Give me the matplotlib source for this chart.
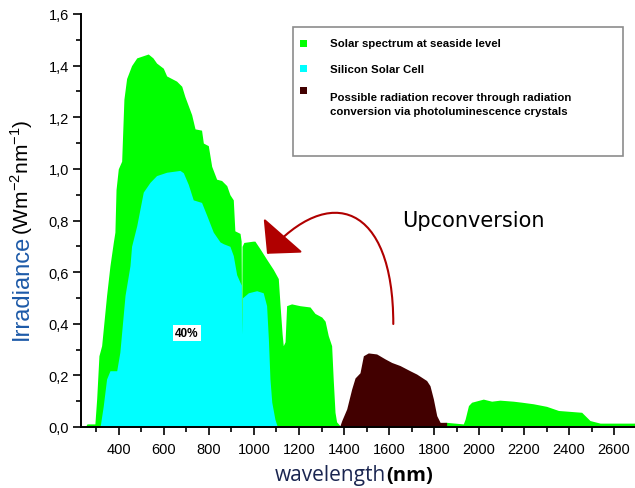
import matplotlib.pyplot as plt
from matplotlib.patches import FancyArrowPatch, Rectangle
from matplotlib.path import Path
from matplotlib.ticker import MultipleLocator, FuncFormatter

# solar spectrum at sea level (green)
solar_wl = [250, 258, 293, 301, 311, 323, 345, 360, 375, 382, 387, 397, 412, 422, 434,
            456, 479, 530, 551, 567, 597, 612, 656, 679, 693, 723, 738, 767, 775, 797,
            812, 834, 856, 879, 893, 908, 915, 938, 943, 945, 947, 955, 996, 1004, 1027,
            1056, 1086, 1108, 1116, 1125, 1130, 1138, 1145, 1167, 1204, 1249, 1271, 1301,
            1316, 1330, 1345, 1352, 1360, 1367, 1382, 1856, 1930, 1938, 1953, 1967, 2019,
            2056, 2093, 2152, 2190, 2241, 2300, 2353, 2456, 2493, 2538, 2700]
solar_irr = [0.0, 0.012, 0.012, 0.11, 0.276, 0.315, 0.51, 0.625, 0.716, 0.755, 0.92, 1.0,
             1.03, 1.27, 1.35, 1.40, 1.43, 1.445, 1.43, 1.41, 1.39, 1.36, 1.34, 1.32, 1.28,
             1.21, 1.155, 1.15, 1.10, 1.09, 1.01, 0.96, 0.955, 0.935, 0.90, 0.88, 0.76,
             0.75, 0.72, 0.36, 0.70, 0.715, 0.72, 0.72, 0.69, 0.65, 0.61, 0.575, 0.47, 0.36,
             0.315, 0.33, 0.47, 0.477, 0.47, 0.465, 0.44, 0.426, 0.41, 0.354, 0.315, 0.186,
             0.057, 0.02, 0.005, 0.018, 0.012, 0.03, 0.083, 0.096, 0.108, 0.10, 0.104, 0.10,
             0.096, 0.09, 0.08, 0.064, 0.057, 0.025, 0.015, 0.015]

# silicon solar cell (cyan)
si_wl = [316, 330, 345, 360, 390, 404, 427, 449, 456, 479, 508, 538, 567, 612, 671, 686,
         708, 730, 767, 790, 819, 849, 864, 893, 908, 923, 938, 944, 945, 948, 975, 1012,
         1041, 1056, 1064, 1071, 1079, 1093, 1104]
si_irr = [0.0, 0.08, 0.186, 0.218, 0.218, 0.29, 0.51, 0.625, 0.70, 0.78, 0.91, 0.948,
          0.974, 0.987, 0.994, 0.985, 0.94, 0.88, 0.87, 0.82, 0.755, 0.717, 0.71, 0.70,
          0.664, 0.59, 0.56, 0.55, 0.36, 0.50, 0.52, 0.528, 0.52, 0.47, 0.34, 0.186, 0.096,
          0.03, 0.0]

# recoverable radiation (dark brown)
rec_wl = [1382, 1390, 1412, 1434, 1449, 1471, 1486, 1508, 1545, 1582, 1612, 1649, 1693,
          1723, 1767, 1782, 1797, 1812, 1827, 1856]
rec_irr = [0.005, 0.025, 0.07, 0.147, 0.19, 0.21, 0.276, 0.287, 0.283, 0.264, 0.25, 0.238,
           0.218, 0.205, 0.18, 0.16, 0.109, 0.044, 0.018, 0.018]

legend_labels = ['Solar spectrum at seaside level', 'Silicon Solar Cell',
                 'Possible radiation recover through radiation\nconversion via photoluminescence crystals']
colors = ['#00ff00', '#00ffff', '#420000']

fig = plt.figure(figsize=(6.35, 4.89), dpi=100)
ax = fig.add_axes([80.7 / 635, 61 / 489, (635 - 80.7) / 635, 413 / 489])

ax.fill_between(solar_wl, solar_irr, color=colors[0], lw=0)
ax.fill_between(si_wl, si_irr, color=colors[1], lw=0)
ax.fill_between(rec_wl, rec_irr, color=colors[2], lw=0)

ax.set_xlim(230, 2693)
ax.set_ylim(0, 1.6)
for s in ['top', 'right']:
    ax.spines[s].set_visible(False)
for s in ['left', 'bottom']:
    ax.spines[s].set_linewidth(1.4)
ax.xaxis.set_major_locator(MultipleLocator(200))
ax.xaxis.set_minor_locator(MultipleLocator(100))
ax.yaxis.set_major_locator(MultipleLocator(0.2))
ax.yaxis.set_minor_locator(MultipleLocator(0.1))
ax.set_xticks([t for t in range(400, 2700, 200)])
ax.yaxis.set_major_formatter(FuncFormatter(lambda v, p: f'{v:.1f}'.replace('.', ',')))
ax.tick_params(which='major', length=5.5, width=1.2, labelsize=10.5, pad=3)
ax.tick_params(axis='x', which='major', pad=5.5)
ax.tick_params(which='minor', length=3.5, width=1.2)
for lab in ax.get_xticklabels() + ax.get_yticklabels():
    lab.set_family('Liberation Sans')

# axis labels
t1 = fig.text(22 / 635, 1 - 340 / 489, 'Irradiance', rotation=90, ha='center', va='bottom',
              fontsize=17, family='Liberation Sans', color='#1d5aa8')
ax.annotate(r'(Wm$^{\mathregular{-2}}$nm$^{\mathregular{-1}}$)', xy=(0.5, 1), xycoords=t1,
            rotation=90, ha='center', va='bottom', fontsize=15, family='Liberation Sans',
            color='black')
t2 = fig.text(275 / 635, 1 - 486 / 489, 'wavelength', ha='left', va='bottom', fontsize=15,
              family='Open Sans', color='#1a2550')
ax.annotate('(nm)', xy=(1, 0), xycoords=t2, ha='left', va='bottom', fontsize=14.5,
            family='Open Sans', fontweight='bold', color='black')

# upconversion arrow
verts = [(1619, 0.399), (1619, 0.864), (1336, 0.947), (1058, 0.671)]
arc = Path(verts, [Path.MOVETO, Path.CURVE4, Path.CURVE4, Path.CURVE4])
ax.add_patch(FancyArrowPatch(path=arc, arrowstyle='-|>,head_length=1.6,head_width=1.7',
                             mutation_scale=10, color='#b00000', lw=1.5))
ax.text(1973, 0.78, 'Upconversion', ha='center', va='baseline', fontsize=15,
        family='DejaVu Sans')
ax.text(702, 0.364, '40%', ha='center', va='center', fontsize=8.5, fontweight='bold',
        family='Liberation Sans', bbox=dict(facecolor='white', edgecolor='none', pad=1.5))

# legend box
fig.patches.append(Rectangle((293 / 635, 1 - 157 / 489), 330 / 635, 129 / 489,
                             transform=fig.transFigure, facecolor='white',
                             edgecolor='#8c8c8c', lw=1.2))
for lab, c, ym in zip(legend_labels, colors, [44, 69, 91.5]):
    fig.patches.append(Rectangle((300 / 635, 1 - (ym + 3.5) / 489), 7 / 635, 7 / 489,
                                 transform=fig.transFigure, facecolor=c, edgecolor='none'))
for lab, yt in zip(legend_labels, [44, 70, 93]):
    fig.text(330 / 635, 1 - yt / 489, lab, ha='left', va='top' if '\n' in lab else 'center',
             fontsize=8.2, fontweight='bold', family='Liberation Sans', linespacing=1.45)

fig.savefig('out.png', dpi=100)
